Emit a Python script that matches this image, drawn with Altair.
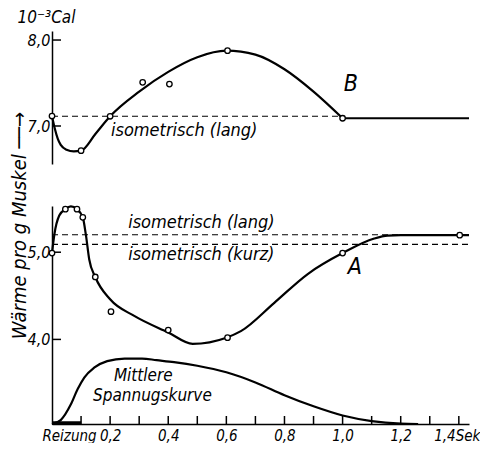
import altair as alt
import pandas as pd

# ---------------- data (time in s, heat in 10^-3 cal per g muscle) ----------------
# Curve B (upper panel)
B_curve_t = [0, 0.01, 0.02, 0.03, 0.05, 0.075, 0.1, 0.15, 0.2, 0.3, 0.4, 0.5, 0.6, 0.7, 0.8, 0.9, 1.0]
B_curve_v = [7.116, 6.965, 6.85, 6.78, 6.725, 6.705, 6.713, 6.91, 7.113, 7.40, 7.63, 7.80, 7.876, 7.83, 7.66, 7.40, 7.09]
B_flat_t = [1.0, 1.435]
B_flat_v = [7.09, 7.09]
B_pts_t = [0, 0.1, 0.2, 0.312, 0.404, 0.604, 1.0]
B_pts_v = [7.116, 6.713, 7.113, 7.508, 7.488, 7.876, 7.09]
B_iso_lang = 7.113

# Curve A (lower panel)
A_curve_t = [0, 0.008, 0.025, 0.046, 0.065, 0.086, 0.106, 0.117, 0.128, 0.149, 0.2, 0.283,
             0.4, 0.484, 0.6, 0.65, 0.765, 0.88, 1.0, 1.109, 1.155, 1.2, 1.435]
A_curve_v = [4.99, 5.2, 5.42, 5.494, 5.525, 5.494, 5.40, 5.19, 4.92, 4.716, 4.46, 4.27,
             4.08, 3.95, 4.02, 4.095, 4.42, 4.75, 4.99, 5.157, 5.19, 5.195, 5.195]
A_pts_t = [0, 0.046, 0.086, 0.106, 0.149, 0.203, 0.40, 0.604, 1.0, 1.403]
A_pts_v = [4.99, 5.494, 5.494, 5.40, 4.716, 4.318, 4.107, 4.02, 4.99, 5.195]
A_iso_lang = 5.20
A_iso_kurz = 5.09

# Mean tension curve (relative units, peak = 1)
T_t = [0, 0.03, 0.065, 0.088, 0.111, 0.145, 0.19, 0.25, 0.31, 0.36, 0.42, 0.5, 0.6,
       0.7, 0.8, 0.9, 1.0, 1.1, 1.2, 1.26]
T_v = [0, 0.06, 0.30, 0.53, 0.71, 0.86, 0.96, 1.0, 1.0, 0.975, 0.945, 0.89, 0.79,
       0.635, 0.44, 0.27, 0.13, 0.045, 0.006, 0]

x_ticks = [0.1, 0.2, 0.3, 0.4, 0.5, 0.6, 0.7, 0.8, 0.9, 1.0, 1.1, 1.2, 1.3, 1.4]
x_labels = [0, 0.2, 0.4, 0.6, 0.8, 1.0, 1.2, 1.4]
y_up_ticks = [7, 8]
y_lo_ticks = [4, 5]
stim = [0, 0.1]

up_text = ["isometrisch (lang)", "B"]
up_text_t = [0.203, 1.004]
up_text_v = [6.884, 7.407]
up_text_size = [18, 23]

lo_text = ["isometrisch (lang)", "isometrisch (kurz)", "A"]
lo_text_t = [0.262, 0.262, 1.018]
lo_text_v = [5.276, 4.908, 4.747]
lo_text_size = [18, 18, 23]

sp_text = ["Mittlere", "Spannugskurve"]
sp_text_t = [0.213, 0.141]
sp_text_v = [0.66, 0.35]

# ---------------- layout ----------------
FONT = "DejaVu Sans Condensed, DejaVu Sans, sans-serif"
W = 417
H_UP = 133
H_LO = 218
XDOM = [0, 1.435]
UP_DOM = [6.558, 8.105]
LO_DOM = [3.03, 5.53]
T_DOM = [0, 3.33]

xs = alt.Scale(domain=XDOM, nice=False, zero=False)

def x_up(field="t"):
    return alt.X(f"{field}:Q", scale=xs, axis=None)

def x_lo(field="t"):
    return alt.X(f"{field}:Q", scale=xs, title=None,
                 axis=alt.Axis(values=x_labels, ticks=False, tickSize=0, labelPadding=4,
                               labelFont=FONT, labelFontStyle="italic", labelFontSize=15,
                               labelColor="black", domainColor="black", domainWidth=1.5,
                               grid=False, labelFlush=False, labelOverlap=False, labelBound=False,
                               labelExpr="datum.value == 0 ? 'Reizung' : (datum.value > 1.35 ? '1,4Sek' : replace(format(datum.value, '.1f'), '.', ','))",
                               labelOffset={"condition": [{"test": "datum.value == 0", "value": 17},
                                                          {"test": "datum.value > 1.35", "value": -2}],
                                            "value": 0}))

def y_up(field="v"):
    return alt.Y(f"{field}:Q", scale=alt.Scale(domain=UP_DOM, nice=False, zero=False),
                 title="10⁻³Cal",
                 axis=alt.Axis(values=y_up_ticks, ticks=False, tickSize=0, labelPadding=2,
                               labelFont=FONT, labelFontStyle="italic", labelFontSize=16,
                               labelColor="black", domainColor="black", domainWidth=1.5,
                               grid=False, labelFlush=False, labelOverlap=False,
                               labelExpr="replace(format(datum.value, '.1f'), '.', ',')",
                               titleAngle=0, titleAlign="left", titleBaseline="alphabetic",
                               titleX=-35, titleY=-9, titleFont=FONT, titleFontStyle="italic",
                               titleFontWeight="normal", titleFontSize=17, titleColor="black"))

def y_lo(field="v"):
    return alt.Y(f"{field}:Q", scale=alt.Scale(domain=LO_DOM, nice=False, zero=False),
                 title="Wärme pro g Muskel ──→",
                 axis=alt.Axis(values=y_lo_ticks, ticks=False, tickSize=0, labelPadding=2,
                               labelFont=FONT, labelFontStyle="italic", labelFontSize=16,
                               labelColor="black", domainColor="black", domainWidth=1.5,
                               grid=False, labelFlush=False, labelOverlap=False,
                               labelExpr="replace(format(datum.value, '.1f'), '.', ',')",
                               titleAngle=270, titleAlign="center", titleBaseline="middle",
                               titleX=-33, titleY=19, titleFont=FONT, titleFontStyle="italic",
                               titleFontWeight="normal", titleFontSize=20, titleColor="black"))

LINE = dict(color="black", strokeWidth=2.2)
DASH = dict(color="black", strokeWidth=1.1, strokeDash=[6, 4])
PT = dict(shape="circle", fill="white", stroke="black", strokeWidth=1.3, size=30, opacity=1, fillOpacity=1)

# ---------------- upper panel ----------------
dfB = pd.DataFrame({"t": B_curve_t + B_flat_t, "v": B_curve_v + B_flat_v,
                    "seg": ["c"] * len(B_curve_t) + ["f"] * len(B_flat_t)})
dfBp = pd.DataFrame({"t": B_pts_t, "v": B_pts_v})
dfBiso = pd.DataFrame({"t": [0], "t2": [1.0], "v": [B_iso_lang]})
dfUt = pd.DataFrame({"v": y_up_ticks})
dfUtxt = pd.DataFrame({"t": up_text_t, "v": up_text_v, "label": up_text, "size": up_text_size})

up_line = alt.Chart(dfB).mark_line(interpolate="monotone", **LINE).encode(
    x=x_up(), y=y_up(), detail="seg:N")
up_iso = alt.Chart(dfBiso).mark_rule(**DASH).encode(x=x_up(), x2="t2:Q", y=y_up())
up_pts = alt.Chart(dfBp).mark_point(**PT).encode(x=x_up(), y=y_up())
up_ticks = alt.Chart(dfUt).mark_rule(color="black", strokeWidth=1.5).encode(
    y=y_up(), x=alt.value(0), x2=alt.value(9))
up_txt = alt.Chart(dfUtxt).mark_text(font=FONT, fontStyle="italic", align="left",
                                     baseline="alphabetic", color="black").encode(
    x=x_up(), y=y_up(), text="label:N", size=alt.Size("size:Q", scale=None, legend=None))

upper = alt.layer(up_iso, up_line, up_ticks, up_pts, up_txt).properties(width=W, height=H_UP)

# ---------------- lower panel ----------------
dfA = pd.DataFrame({"t": A_curve_t, "v": A_curve_v})
dfAp = pd.DataFrame({"t": A_pts_t, "v": A_pts_v})
dfAiso = pd.DataFrame({"t": [0, 0], "t2": [XDOM[1], XDOM[1]], "v": [A_iso_lang, A_iso_kurz]})
dfLt = pd.DataFrame({"v": y_lo_ticks})
dfXt = pd.DataFrame({"t": x_ticks})
dfStim = pd.DataFrame({"t": [stim[0]], "t2": [stim[1]]})
dfLtxt = pd.DataFrame({"t": lo_text_t, "v": lo_text_v, "label": lo_text, "size": lo_text_size})
dfT = pd.DataFrame({"t": T_t, "tv": T_v})
dfStxt = pd.DataFrame({"t": sp_text_t, "tv": sp_text_v, "label": sp_text})

lo_line = alt.Chart(dfA).mark_line(interpolate="monotone", **LINE).encode(x=x_lo(), y=y_lo())
lo_iso = alt.Chart(dfAiso).mark_rule(**DASH).encode(x=x_lo(), x2="t2:Q", y=y_lo())
lo_pts = alt.Chart(dfAp).mark_point(**PT).encode(x=x_lo(), y=y_lo())
lo_yticks = alt.Chart(dfLt).mark_rule(color="black", strokeWidth=1.5).encode(
    y=y_lo(), x=alt.value(0), x2=alt.value(9))
lo_xticks = alt.Chart(dfXt).mark_rule(color="black", strokeWidth=1.5).encode(
    x=x_lo(), y=alt.value(H_LO), y2=alt.value(H_LO - 8))
lo_stim = alt.Chart(dfStim).mark_rule(color="black", strokeWidth=3.5).encode(
    x=x_lo(), x2="t2:Q", y=alt.value(H_LO - 1))
lo_txt = alt.Chart(dfLtxt).mark_text(font=FONT, fontStyle="italic", align="left",
                                     baseline="alphabetic", color="black").encode(
    x=x_lo(), y=y_lo(), text="label:N", size=alt.Size("size:Q", scale=None, legend=None))

wl = alt.layer(lo_iso, lo_line, lo_yticks, lo_xticks, lo_stim, lo_pts, lo_txt)

ty = alt.Y("tv:Q", scale=alt.Scale(domain=T_DOM, nice=False, zero=False), axis=None)
t_line = alt.Chart(dfT).mark_line(interpolate="monotone", **LINE).encode(x=x_lo(), y=ty)
t_txt = alt.Chart(dfStxt).mark_text(font=FONT, fontStyle="italic", align="left",
                                    baseline="alphabetic", color="black", fontSize=17).encode(
    x=x_lo(), y=ty, text="label:N")
tl = alt.layer(t_line, t_txt)

lower = alt.layer(wl, tl).resolve_scale(y="independent").properties(width=W, height=H_LO)

chart = alt.vconcat(upper, lower, spacing=42, bounds="flush").properties(
    padding={"left": 0, "top": 0, "right": 0, "bottom": 0}
).configure_view(strokeWidth=0)

chart.save("out.html", embed_options={"renderer": "svg", "actions": False})
